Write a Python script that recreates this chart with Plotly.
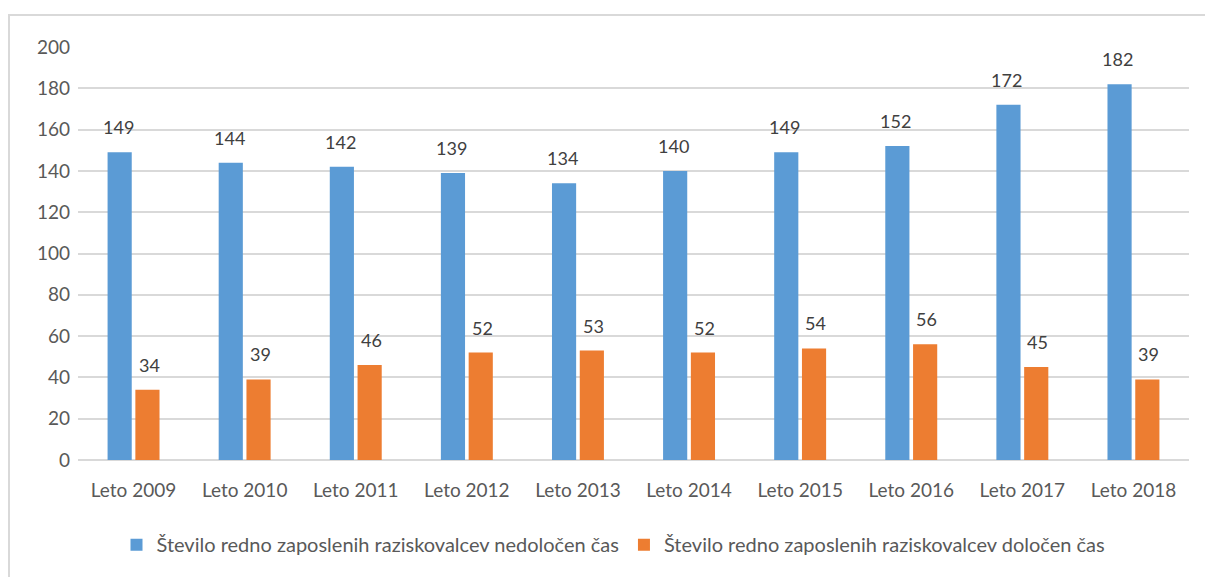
import plotly.graph_objects as go

categories = ["Leto 2009", "Leto 2010", "Leto 2011", "Leto 2012", "Leto 2013",
              "Leto 2014", "Leto 2015", "Leto 2016", "Leto 2017", "Leto 2018"]
nedolocen = [149, 144, 142, 139, 134, 140, 149, 152, 172, 182]
dolocen = [34, 39, 46, 52, 53, 52, 54, 56, 45, 39]
name_ned = "Število redno zaposlenih raziskovalcev nedoločen čas"
name_dol = "Število redno zaposlenih raziskovalcev določen čas"
y_ticks = [0, 20, 40, 60, 80, 100, 120, 140, 160, 180, 200]

BLUE = "#5B9BD5"
ORANGE = "#ED7D31"
FONT = "Lato"

fig = go.Figure()
fig.add_trace(go.Bar(x=categories, y=nedolocen, name=name_ned,
                     marker=dict(color=BLUE, line=dict(width=0))))
fig.add_trace(go.Bar(x=categories, y=dolocen, name=name_dol,
                     marker=dict(color=ORANGE, line=dict(width=0))))

annotations = []
for c, v in zip(categories, nedolocen):
    annotations.append(dict(x=c, y=v, xref="x", yref="y", text=str(v), showarrow=False,
                            xshift=-15.5, yshift=12, yanchor="bottom",
                            font=dict(family=FONT, size=18, color="#404040")))
for c, v in zip(categories, dolocen):
    annotations.append(dict(x=c, y=v, xref="x", yref="y", text=str(v), showarrow=False,
                            xshift=15.5, yshift=12, yanchor="bottom",
                            font=dict(family=FONT, size=18, color="#404040")))

fig.update_layout(
    width=1205, height=577,
    margin=dict(l=78, r=16, t=47, b=117),
    paper_bgcolor="white", plot_bgcolor="white",
    barmode="group", bargap=0.5, bargroupgap=0.13,
    font=dict(family=FONT, size=19, color="#595959"),
    showlegend=True,
    legend=dict(orientation="h", x=0.482, xanchor="center", y=-0.205, yanchor="middle",
                font=dict(family=FONT, size=20, color="#595959"),
                itemsizing="constant", traceorder="normal"),
    annotations=annotations,
    shapes=[dict(type="rect", xref="paper", yref="paper",
                 x0=-0.0621, x1=1.08, y0=-0.4, y1=1.0775,
                 line=dict(color="#D9D9D9", width=2), fillcolor="rgba(0,0,0,0)",
                 layer="below")],
)
fig.update_xaxes(showgrid=False, showline=False, ticks="", ticklabelstandoff=17,
                 tickfont=dict(family=FONT, size=19, color="#595959"))
fig.update_yaxes(range=[0, 200], tickvals=y_ticks, showgrid=True, gridcolor="#D9D9D9",
                 gridwidth=1.5, zeroline=True, zerolinecolor="#D9D9D9", zerolinewidth=1.5,
                 showline=False, ticks="", ticklabelstandoff=7,
                 tickfont=dict(family=FONT, size=19, color="#595959"))

fig.write_html("out.html", config={"displayModeBar": False},
               post_script="document.body.style.margin='0';document.body.style.overflow='hidden';")
